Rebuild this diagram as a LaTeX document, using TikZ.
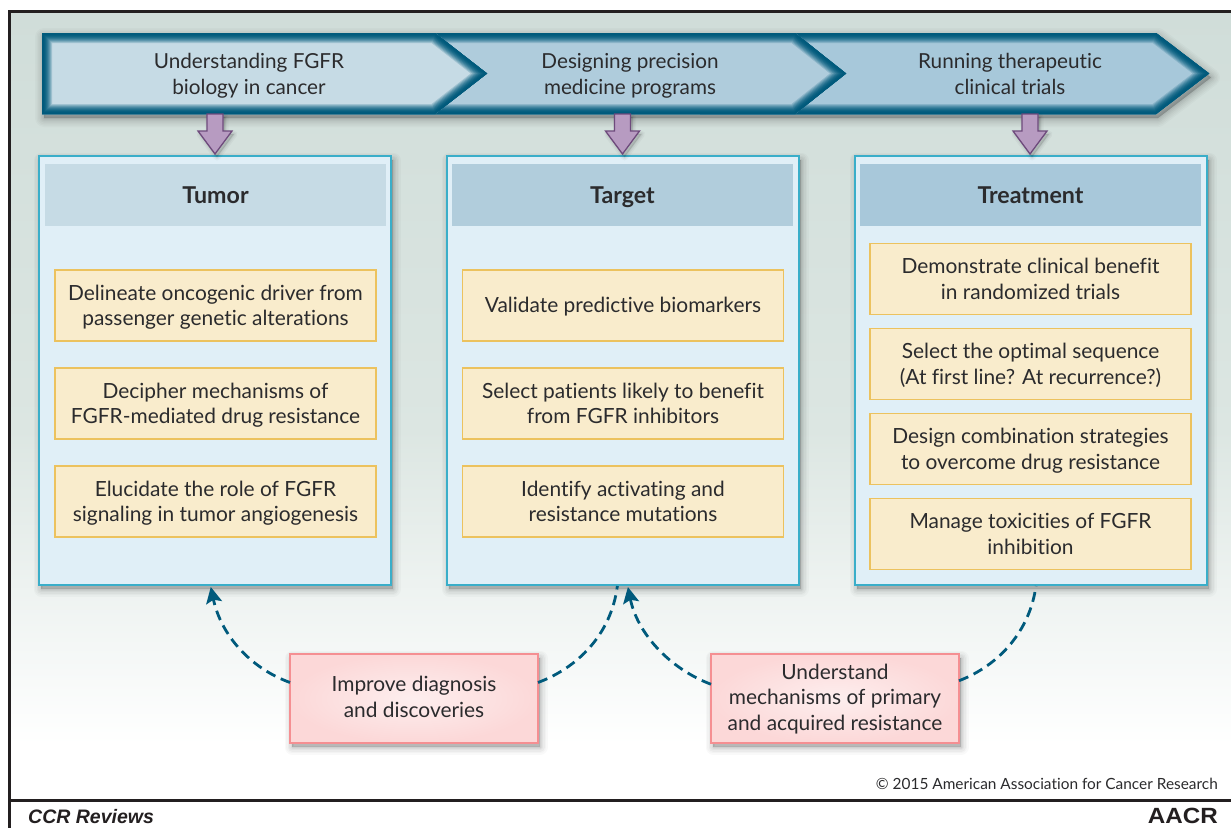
\documentclass[tikz,border=0pt]{standalone}
\usepackage{fontspec}
\setmainfont[Ligatures=NoCommon]{Lato}
\newfontfamily\helv{Liberation Sans}
\usetikzlibrary{arrows.meta,calc,shadings}
\definecolor{inktext}{HTML}{2B2B2D}
\definecolor{barDark}{HTML}{005A7C}
\definecolor{chevA}{HTML}{C6DBE5}
\definecolor{chevB}{HTML}{AFCCDC}
\definecolor{chevC}{HTML}{A7C8DA}
\definecolor{panelFill}{HTML}{E0EFF7}
\definecolor{panelEdge}{HTML}{3AAEC9}
\definecolor{headA}{HTML}{C6DBE5}
\definecolor{headB}{HTML}{B1CDDC}
\definecolor{headC}{HTML}{A8C8DA}
\definecolor{noteFill}{HTML}{F9ECCC}
\definecolor{noteEdge}{HTML}{ECC25E}
\definecolor{pinkIn}{HTML}{FDEEEE}
\definecolor{pinkOut}{HTML}{FCD8D8}
\definecolor{pinkEdge}{HTML}{F58F92}
\definecolor{purpFill}{HTML}{B79BC1}
\definecolor{purpEdge}{HTML}{6E4A7C}
\definecolor{bgTop}{HTML}{D0DDD9}
\definecolor{bgMid}{HTML}{DCE6E2}
\definecolor{frameInk}{HTML}{231F20}
\newcommand\lines[2][-7.5pt]{\raisebox{#1}[0pt][0pt]{\begin{tabular}{@{}c@{}}#2\end{tabular}}}
\tikzset{
  softshadow/.style={
    preaction={draw=black,fill=black,opacity=.022,line width=15pt,line join=round,transform canvas={shift={(2,4)}}},
    preaction={draw=black,fill=black,opacity=.025,line width=12pt,line join=round,transform canvas={shift={(2,4)}}},
    preaction={draw=black,fill=black,opacity=.03,line width=9pt,line join=round,transform canvas={shift={(2,4)}}},
    preaction={draw=black,fill=black,opacity=.035,line width=6pt,line join=round,transform canvas={shift={(2,4)}}},
    preaction={draw=black,fill=black,opacity=.04,line width=3pt,line join=round,transform canvas={shift={(2,4)}}},
    preaction={draw=black,fill=black,opacity=.04,line width=.5pt,line join=round,transform canvas={shift={(2,4)}}}},
  softshadowsmall/.style={
    preaction={draw=black,fill=black,opacity=.03,line width=7pt,line join=round,transform canvas={shift={(2,3)}}},
    preaction={draw=black,fill=black,opacity=.04,line width=4pt,line join=round,transform canvas={shift={(2,3)}}},
    preaction={draw=black,fill=black,opacity=.05,line width=1.5pt,line join=round,transform canvas={shift={(2,3)}}}},
  panelbox/.style={rectangle,draw=panelEdge,fill=panelFill,line width=2pt,minimum width=352pt,minimum height=429pt,outer sep=0pt,softshadow},
  headbox/.style={rectangle,minimum width=341pt,minimum height=62pt,outer sep=0pt,text=inktext,text height=16pt,text depth=0pt,font=\fontsize{23.2}{26}\selectfont\bfseries},
  notebox/.style={rectangle,draw=noteEdge,fill=noteFill,line width=1.6pt,minimum width=321pt,minimum height=71pt,outer sep=0pt,text=inktext,font=\fontsize{20.9}{25.7}\selectfont},
  pinkbox/.style={rectangle,draw=pinkEdge,line width=2pt,inner color=pinkIn,outer color=pinkOut,minimum width=248pt,minimum height=89pt,outer sep=0pt,text=inktext,font=\fontsize{20.9}{25.7}\selectfont,softshadow},
  bartext/.style={text=inktext,font=\fontsize{20.7}{26}\selectfont},
  feedback/.style={draw=barDark,line width=2.8pt,dash pattern=on 10pt off 6pt,-{Stealth[length=16pt,width=16pt,inset=3pt]}},
  feedbackplain/.style={draw=barDark,line width=2.8pt,dash pattern=on 10pt off 6pt},
  blockarrow/.style={draw=purpEdge,fill=purpFill,line width=1.3pt,line join=miter},
}
\newcommand\chevpath[3]{(#1,33) -- (#2,33) -- (#3,73.5) -- (#2,114) -- (#1,114) -- cycle}
\newcommand\chevron[4]{%
  \begin{scope}
    \clip \chevpath{#1}{#2}{#3};
    \fill[#4] \chevpath{#1}{#2}{#3};
    \foreach \t in {11,10,...,1}{
      \pgfmathtruncatemacro\p{100-100*((\t-1)/10)^2}
      \draw[line width=2*\t*1pt,color=barDark!\p!#4,line join=miter] \chevpath{#1}{#2}{#3};
    }
  \end{scope}}
\newcommand\downarrowblock[2]{%
  \draw[blockarrow,softshadowsmall] ($(#1)+(-8,0)$) -- ($(#2)+(-8,-23)$) -- ($(#2)+(-17,-23)$) -- (#2) -- ($(#2)+(17,-23)$) -- ($(#2)+(8,-23)$) -- ($(#1)+(8,0)$) -- cycle;}
\begin{document}
\begin{tikzpicture}[x=1pt,y=-1pt]
\useasboundingbox (0,0) rectangle (1231,828);
% page background
\fill[white] (0,0) rectangle (1231,828);
\fill[top color=bgTop,bottom color=bgMid] (9,11) rectangle (1231,430);
\fill[top color=bgMid,bottom color=white] (9,430) rectangle (1231,745);
% frame
\draw[frameInk,line width=3pt] (1231,11) -- (9,11) -- (9,828);
\draw[frameInk,line width=3pt] (9,800.5) -- (1231,800.5);
% bar shadow
\foreach \w/\o in {18/.02,15/.022,12/.025,9/.03,6/.035,3/.04,.5/.04}{
  \fill[black,opacity=\o,draw=black,line width=\w pt,line join=round,transform canvas={shift={(2,4)}}] (42,33) -- (1156,33) -- (1209,73.5) -- (1156,114) -- (42,114) -- cycle;
}
% chevrons
\chevron{700}{1156}{1209}{chevC}
\chevron{400}{795}{846}{chevB}
\chevron{42}{435}{487}{chevA}
\node[bartext] (c1) at (249,73.5) {\lines{Understanding FGFR\\biology in cancer}};
\node[bartext] (c2) at (630,73.5) {\lines{Designing precision\\medicine programs}};
\node[bartext] (c3) at (1010,73.5) {\lines{Running therapeutic\\clinical trials}};
% panels
\node[panelbox] (tumor) at (215,370.5) {};
\node[panelbox] (target) at (623,370.5) {};
\node[panelbox] (treat) at (1031,370.5) {};
\node[headbox,fill=headA] (h1) at (215.5,195) {Tumor};
\node[headbox,fill=headB] (h2) at (622.5,195) {Target};
\node[headbox,fill=headC] (h3) at (1030.5,195) {Treatment};
% block arrows
\coordinate (b1) at (215,114);
\coordinate (b2) at (622.5,114);
\coordinate (b3) at (1030,114);
\coordinate (t1) at (215,154);
\coordinate (t2) at (622.5,154);
\coordinate (t3) at (1030,154);
\downarrowblock{b1}{t1}
\downarrowblock{b2}{t2}
\downarrowblock{b3}{t3}
% notes
\node[notebox] (n11) at (215.5,305.5) {\lines{Delineate oncogenic driver from\\passenger genetic alterations}};
\node[notebox] (n12) at (215.5,403.5) {\lines{Decipher mechanisms of\\FGFR-mediated drug resistance}};
\node[notebox] (n13) at (215.5,501.5) {\lines{Elucidate the role of FGFR\\signaling in tumor angiogenesis}};
\node[notebox] (n21) at (623,305.5) {\lines{Validate predictive biomarkers}};
\node[notebox] (n22) at (623,403.5) {\lines{Select patients likely to benefit\\from FGFR inhibitors}};
\node[notebox] (n23) at (623,501.5) {\lines{Identify activating and\\resistance mutations}};
\node[notebox] (n31) at (1030.5,279) {\lines{Demonstrate clinical benefit\\in randomized trials}};
\node[notebox] (n32) at (1030.5,364) {\lines{Select the optimal sequence\\(At first line? At recurrence?)}};
\node[notebox] (n33) at (1030.5,449) {\lines{Design combination strategies\\to overcome drug resistance}};
\node[notebox] (n34) at (1030.5,534) {\lines{Manage toxicities of FGFR\\inhibition}};
% pink boxes
\node[pinkbox] (p1) at (414,698.5) {\lines[-6pt]{Improve diagnosis\\and discoveries}};
\node[pinkbox] (p2) at (835,698.5) {\lines[-6.5pt]{Understand\\mechanisms of primary\\and acquired resistance}};
% feedback connectors
\coordinate (p1w) at ($(p1.north west)!.32!(p1.south west)$);
\coordinate (p1e) at ($(p1.north east)!.32!(p1.south east)$);
\coordinate (p2w) at ($(p2.north west)!.34!(p2.south west)$);
\coordinate (p2e) at ($(p2.north east)!.30!(p2.south east)$);
\coordinate (a1) at ($(tumor.south west)!.488!(tumor.south east)$);
\coordinate (a2) at ($(target.south west)!.484!(target.south east)$);
\coordinate (a3) at ($(target.south west)!.514!(target.south east)$);
\coordinate (a4) at ($(treat.south west)!.514!(treat.south east)$);
\draw[feedback] (p1w) .. controls (250,668) and (221,635) .. ([yshift=-2pt]a1);
\draw[feedbackplain] (p1e) .. controls (577,668) and (611,635) .. ([yshift=-1pt]a2);
\draw[feedback] (p2w) .. controls (668,668) and (637,632) .. ([yshift=-2pt]a3);
\draw[feedbackplain] (p2e) .. controls (1000,665) and (1030,630) .. ([yshift=-1pt]a4);
% footer
\node[anchor=east,text=inktext,font=\fontsize{15.4}{18}\selectfont,inner sep=0pt] (copy) at (1218,784) {© 2015 American Association for Cancer Research};
\node[anchor=west,text=frameInk,font=\helv\fontsize{19.5}{22}\selectfont\bfseries\itshape,inner sep=0pt] (ccr) at (28,817) {CCR Reviews};
\node[anchor=east,text=frameInk,font=\helv\fontsize{22}{24}\selectfont\bfseries,inner sep=0pt,xscale=1.1] (aacr) at (1218,816) {AACR};
\end{tikzpicture}
\end{document}
